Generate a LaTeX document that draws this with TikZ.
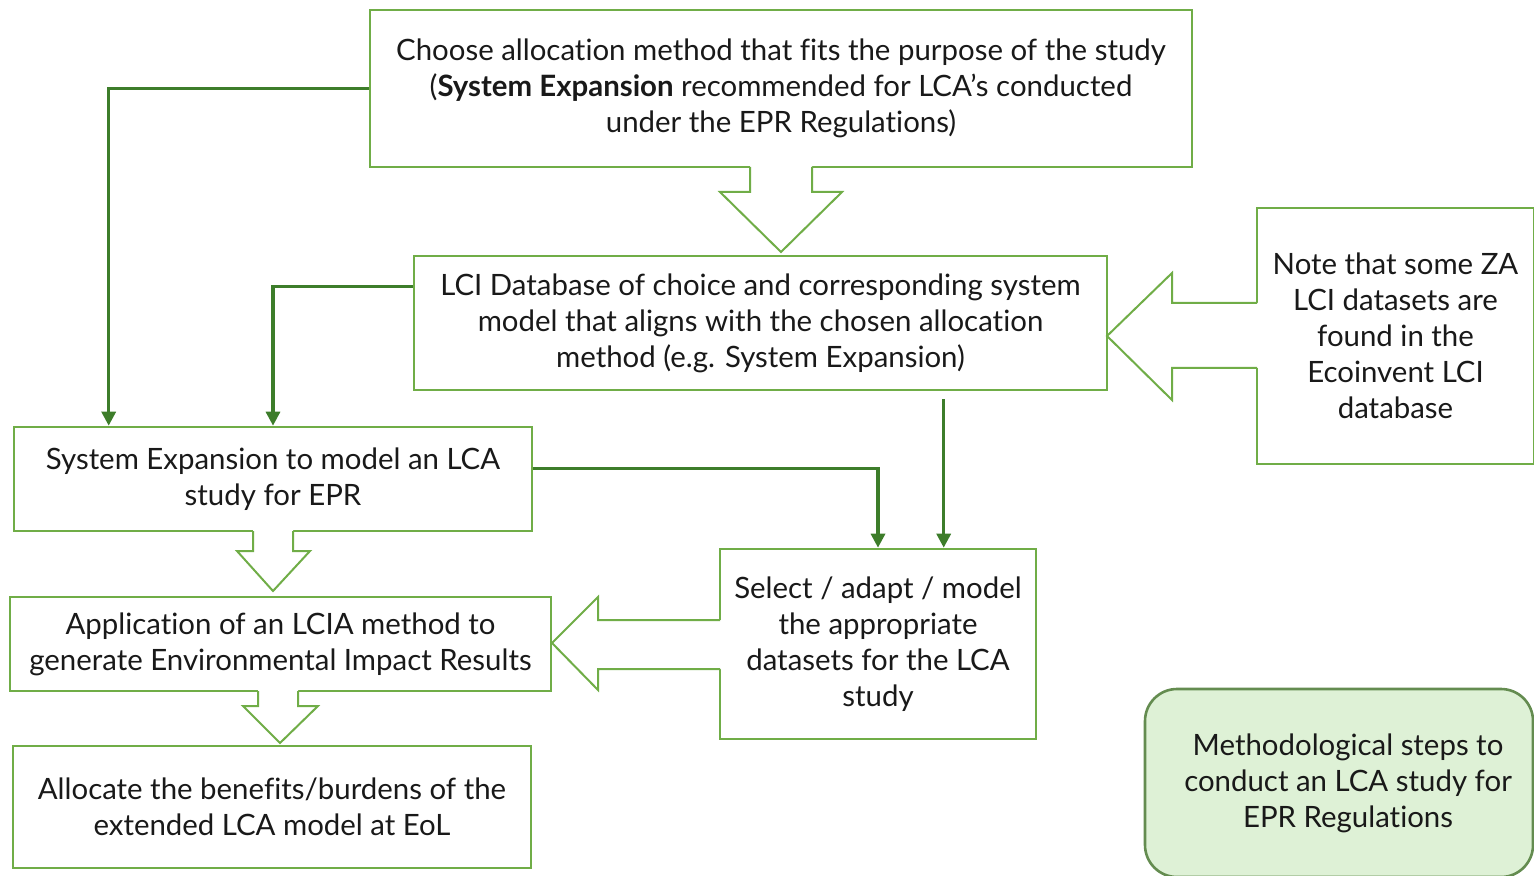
\documentclass[tikz,border=0pt]{standalone}
\usepackage{fontspec}
\setmainfont{Lato}[Ligatures=NoCommon]
\usetikzlibrary{calc,arrows.meta}
\definecolor{boxgreen}{RGB}{112,173,71}
\definecolor{linegreen}{RGB}{61,125,42}
\definecolor{notefill}{RGB}{222,241,214}
\definecolor{noteline}{RGB}{100,140,80}
\definecolor{txt}{RGB}{25,25,25}
\begin{document}
\begin{tikzpicture}[x=0.5pt,y=-0.5pt,
  box/.style={draw=boxgreen, line width=1.3pt, align=center, text=txt,
    font=\fontsize{14.7}{18}\selectfont, inner sep=0pt},
  conn/.style={draw=linegreen, line width=1.6pt, -{Triangle[length=7pt,width=7pt]}},
  blkfill/.style={fill=white},
  blk/.style={draw=boxgreen, line width=1pt, line join=miter}]
\useasboundingbox (0,0) rectangle (1534,876);

\node[box, minimum width=411pt, minimum height=78.5pt] (A) at (781,88.5)
  {Choose allocation method that fits the purpose of the study\\
   (\textbf{System Expansion} recommended for LCA's conducted\\
   under the EPR Regulations)};
\node[box, minimum width=346.5pt, minimum height=67pt] (B) at (760.5,323)
  {LCI Database of choice and corresponding system\\
   model that aligns with the chosen allocation\\
   method (e.g. System Expansion)};
\node[box, minimum width=138.5pt, minimum height=128pt] (N) at (1395.5,336)
  {Note that some ZA\\ LCI datasets are\\ found in the\\ Ecoinvent LCI\\ database};
\node[box, minimum width=259pt, minimum height=52pt] (C) at (273,479)
  {System Expansion to model an LCA\\ study for EPR};
\node[box, minimum width=270.5pt, minimum height=47pt] (D) at (280.5,644)
  {Application of an LCIA method to\\ generate Environmental Impact Results};
\node[box, minimum width=158pt, minimum height=95pt] (E) at (878,644)
  {Select / adapt / model\\ the appropriate\\ datasets for the LCA\\ study};
\node[box, minimum width=259pt, minimum height=61pt] (F) at (272,807)
  {Allocate the benefits/burdens of the\\ extended LCA model at EoL};
\node[box, draw=noteline, fill=notefill, rounded corners=16pt,
  minimum width=194pt, minimum height=94pt,
  label={[box,draw=none,xshift=4.5pt]center:Methodological steps to\\ conduct an LCA study for\\ EPR Regulations}] (G) at (1339,783) {};

% line connectors
\coordinate (c1) at ($(C.north west)+(96,0)$);
\coordinate (b1) at ($(B.north west)+(0,32)$);
\coordinate (c2) at ($(C.north east)+(0,43)$);
\coordinate (b3) at ($(B.south west)+(531,8)$);
\draw[conn] (A.west) -| (c1);
\draw[conn] (b1) -| (C.north);
\draw[conn] (c2) -| (E.north);
\draw[conn] (b3) -- (b3 |- E.north);

% block arrows
\fill[blkfill] (750,165) -- (750,192) -- (720,192) -- (781,252) -- (842,192) -- (812,192) -- (812,165) -- cycle;
\draw[blk] (750,167) -- (750,192) -- (720,192) -- (781,252) -- (842,192) -- (812,192) -- (812,167);

\fill[blkfill] (1259,303) -- (1172,303) -- (1172,273) -- (1107,336) -- (1172,400) -- (1172,368) -- (1259,368) -- cycle;
\draw[blk] (1257,303) -- (1172,303) -- (1172,273) -- (1107,336) -- (1172,400) -- (1172,368) -- (1257,368);

\fill[blkfill] (724,620) -- (598,620) -- (598,597) -- (552,643) -- (598,690) -- (598,669) -- (724,669) -- cycle;
\draw[blk] (720,620) -- (598,620) -- (598,597) -- (552,643) -- (598,690) -- (598,669) -- (720,669);

\fill[blkfill] (253,529) -- (253,551) -- (237,551) -- (273,591) -- (310,551) -- (293,551) -- (293,529) -- cycle;
\draw[blk] (253,531) -- (253,551) -- (237,551) -- (273,591) -- (310,551) -- (293,551) -- (293,531);

\fill[blkfill] (258,689) -- (258,706) -- (243,706) -- (280,743) -- (318,706) -- (298,706) -- (298,689) -- cycle;
\draw[blk] (258,691) -- (258,706) -- (243,706) -- (280,743) -- (318,706) -- (298,706) -- (298,691);
\end{tikzpicture}
\end{document}
